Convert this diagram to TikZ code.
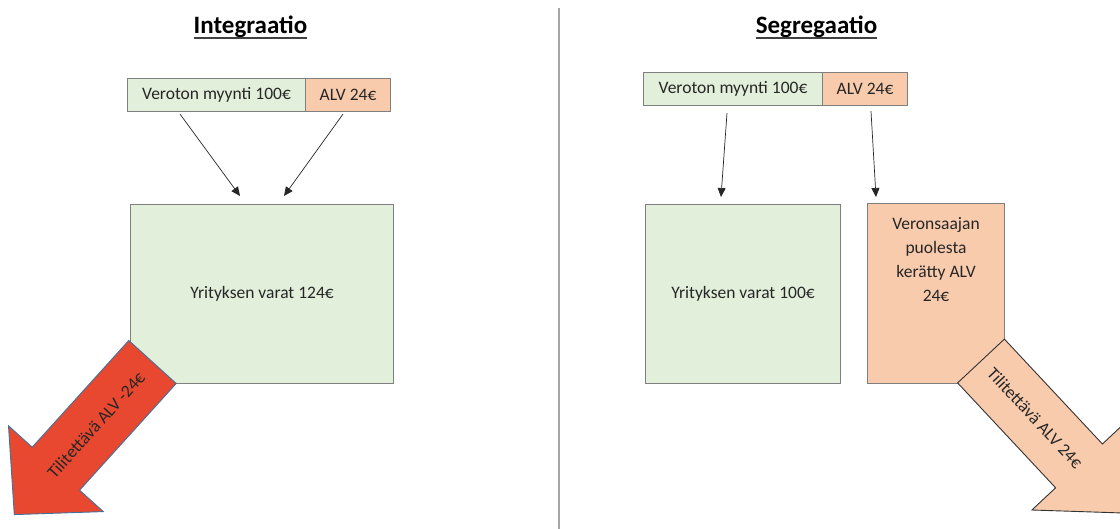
\documentclass[tikz,border=0pt]{standalone}
\usepackage{fontspec}
\setmainfont{Carlito}
\usetikzlibrary{arrows.meta,calc}
\definecolor{gfill}{HTML}{E2EFDA}
\definecolor{ofill}{HTML}{F8CBAD}
\definecolor{rfill}{HTML}{E8482F}
\definecolor{bord}{HTML}{7F7F7F}
\definecolor{txt}{HTML}{262626}
\definecolor{blueb}{HTML}{41719C}
\begin{document}
\begin{tikzpicture}[x=1pt,y=-1pt,
  box/.style={draw=bord, line width=1.1pt, inner sep=0pt, anchor=north west,
    font=\fontsize{17.5}{21}\selectfont, text=txt},
  plain/.style={inner sep=0pt, font=\fontsize{17.5}{24}\selectfont, text=txt},
  title/.style={inner sep=0pt, anchor=base, font=\fontsize{25}{30}\selectfont\bfseries},
  conn/.style={line width=0.7pt, draw=black!85, -{Triangle[length=9pt,width=8pt]}},
  ul/.style={line width=2pt, draw=black!75}]
\useasboundingbox (0,0) rectangle (1120,529);
\clip (0,0) rectangle (1120,529);

% titles and divider
\node[title] (t1) at (250.5,34) {Integraatio};
\draw[ul] ($(t1.base west)+(0,4.5)$) -- ($(t1.base east)+(0,4.5)$);
\node[title] (t2) at (816.5,34) {Segregaatio};
\draw[ul] ($(t2.base west)+(0,4.5)$) -- ($(t2.base east)+(0,4.5)$);
\draw[line width=2pt, draw=black!35] (558.5,8) -- (558.5,529);

% ---------- left: Integraatio ----------
\node[box, fill=gfill, minimum width=178pt, minimum height=33pt] (lv) at (127,78) {Veroton myynti 100€};
\node[box, fill=ofill, minimum width=85pt, minimum height=33pt] (la) at (305,78) {ALV 24€};
\node[box, fill=gfill, minimum width=263pt, minimum height=179pt] (lb) at (130,204) {};
\node[plain] (lbt) at (lb.center) {Yrityksen varat 124€};
\coordinate (a1s) at ($(lv.south west)+(53,2)$);
\coordinate (a1e) at ($(lb.north west)+(110,-8)$);
\coordinate (a2s) at ($(la.south west)+(38,2)$);
\coordinate (a2e) at ($(lb.north west)+(154,-8)$);
\draw[conn] (a1s) -- (a1e);
\draw[conn] (a2s) -- (a2e);

% red block arrow
\draw[fill=rfill, draw=blueb, line width=0.9pt, line join=miter]
  (128.8,340.5) -- (176.2,383.5) -- (79.6,490.2) -- (103.3,511.6) --
  (14.3,514.6) -- (8.5,425.8) -- (32.2,447.2) -- cycle;
\node[plain, rotate=47.8] (lt) at (96,425) {Tilitettävä ALV -24€};

% ---------- right: Segregaatio ----------
\node[box, fill=gfill, minimum width=179pt, minimum height=33pt] (rv) at (643,72) {Veroton myynti 100€};
\node[box, fill=ofill, minimum width=85pt, minimum height=33pt] (ra) at (822,72) {ALV 24€};
\node[box, fill=gfill, minimum width=195pt, minimum height=179pt] (rb) at (645,204) {};
\node[plain] (rbt) at (rb.center) {Yrityksen varat 100€};
\node[box, fill=ofill, minimum width=137pt, minimum height=180pt] (ro) at (867,203) {};
\node[plain, align=center, anchor=north] (rot) at ($(ro.north)+(0,14)$)
  {Veronsaajan\\puolesta\\kerätty ALV\\24€};
\coordinate (r1s) at ($(rv.south west)+(84,7)$);
\coordinate (r1e) at ($(rb.north west)+(76,-7)$);
\coordinate (r2s) at ($(ra.south west)+(49,5)$);
\coordinate (r2e) at ($(ro.north west)+(9,-6)$);
\draw[conn] (r1s) -- (r1e);
\draw[conn] (r2s) -- (r2e);

% orange block arrow
\draw[fill=ofill, draw=black!80, line width=0.9pt, line join=miter]
  (1004.4,339.1) -- (957.6,382.9) -- (1055.6,487.8) -- (1031.9,510.0) --
  (1123,513) -- (1126.1,421.8) -- (1102.4,444.0) -- cycle;
\node[plain, rotate=-46.9] (rt) at (1035,418) {Tilitettävä ALV 24€};
\end{tikzpicture}
\end{document}
